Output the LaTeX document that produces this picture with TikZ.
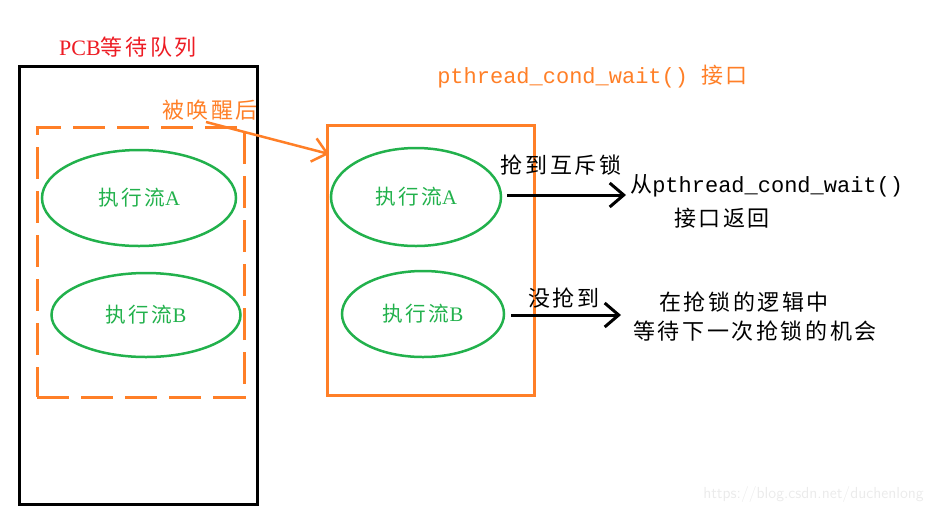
\documentclass[tikz,border=0pt]{standalone}
\usepackage{fontspec}
\setmainfont{Liberation Serif}
\setmonofont{Liberation Mono}
\newfontfamily\cjk[LetterSpace=12]{Noto Sans CJK SC}
\usetikzlibrary{arrows.meta,shapes.geometric}
\definecolor{myorange}{RGB}{255,127,39}
\definecolor{mygreen}{RGB}{34,177,76}
\definecolor{myred}{RGB}{237,28,36}
\def\p#1{#1*0.75pt}
\tikzset{
  box/.style={draw, rectangle, inner sep=0pt},
  blackbox/.style={box, line width=\p{3}, draw=black},
  orangebox/.style={box, line width=\p{3}, draw=myorange},
  dashbox/.style={box, line width=\p{3}, draw=myorange, dash pattern=on \p{32} off \p{12}},
  flow/.style={draw=mygreen, ellipse, line width=\p{2.5}, inner sep=0pt, text=mygreen, font=\fontsize{15.5}{18}\selectfont},
  lbl/.style={inner sep=0pt, font=\fontsize{16.5}{19}\selectfont},
  codelbl/.style={inner sep=0pt, font=\fontsize{16.5}{19}\selectfont\ttfamily},
  blackarrow/.style={line width=\p{3}, -{Straight Barb[length=\p{14}, width=\p{24}, line width=\p{3}]}},
  orangearrow/.style={line width=\p{2.5}, draw=myorange, -{Straight Barb[length=\p{14}, width=\p{24}, line width=\p{2.5}]}},
}
\begin{document}
\begin{tikzpicture}[x=0.75pt,y=-0.75pt]
\useasboundingbox (0,0) rectangle (939,512);
% left queue
\node[blackbox, minimum width=\p{238}, minimum height=\p{438}] (pcb) at (138,285) {};
\node[lbl, text=myred] (pcbtitle) at (128,47) {PCB{\cjk 等待队列}};
\node[dashbox, minimum width=\p{207}, minimum height=\p{270}] (queue) at (140.5,262) {};
\node[flow, minimum width=\p{194}, minimum height=\p{96}] (la) at (139,198) {{\cjk 执行流}A};
\node[flow, minimum width=\p{189}, minimum height=\p{84}] (lb) at (146,315) {{\cjk 执行流}B};
% wake up
\node[lbl, text=myorange] (wake) at (210,110) {\cjk 被唤醒后};
\coordinate (wakestart) at (206,122);
% right box
\node[orangebox, minimum width=\p{207}, minimum height=\p{270}] (cond) at (430.5,260) {};
\coordinate (wakeend) at (329,154);
\draw[orangearrow] (wakestart) -- (wakeend);
\node[codelbl, text=myorange, anchor=west] (condtitle) at (437,77) {pthread\_cond\_wait() {\cjk 接口}};
\node[flow, minimum width=\p{170}, minimum height=\p{98}] (ra) at (416,197) {{\cjk 执行流}A};
\node[flow, minimum width=\p{162}, minimum height=\p{86}] (rb) at (423,314) {{\cjk 执行流}B};
% outcomes
\coordinate (astart) at (507,195);
\coordinate (aend) at (626,195);
\draw[blackarrow] (astart) -- (aend);
\node[lbl] (got) at (561,165) {\cjk 抢到互斥锁};
\node[lbl, anchor=west] (ret1) at (630,186) {{\cjk 从}\ttfamily pthread\_cond\_wait()};
\node[lbl] (ret2) at (722,218) {\cjk 接口返回};
\coordinate (bstart) at (511,315);
\coordinate (bend) at (621,315);
\draw[blackarrow] (bstart) -- (bend);
\node[lbl] (notgot) at (564,298) {\cjk 没抢到};
\node[lbl] (wait1) at (744,302) {\cjk 在抢锁的逻辑中};
\node[lbl] (wait2) at (755,331) {\cjk 等待下一次抢锁的机会};
% watermark
\node[inner sep=0pt, anchor=west, text=black!8, font=\fontsize{12}{14}\sffamily] (wm) at (703,494) {https://blog.csdn.net/duchenlong};
\end{tikzpicture}
\end{document}
